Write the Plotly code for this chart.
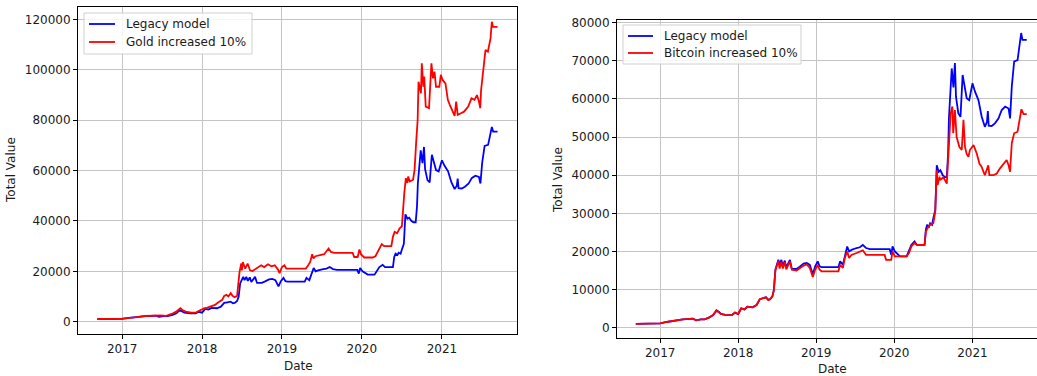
import plotly.graph_objects as go

# ---- portfolio value series -------------------------------------------------
legacy_dates = [
    "2016-09-09", "2017-01-01", "2017-01-31", "2017-03-01", "2017-04-17", "2017-06-03",
    "2017-06-18", "2017-07-10", "2017-07-28", "2017-08-19", "2017-09-06", "2017-09-21",
    "2017-10-02", "2017-10-12", "2017-11-07", "2017-12-03", "2017-12-17", "2018-01-01",
    "2018-01-15", "2018-01-30", "2018-02-13", "2018-03-10", "2018-03-28", "2018-04-12",
    "2018-04-27", "2018-05-11", "2018-05-22", "2018-05-30", "2018-06-10", "2018-06-17",
    "2018-06-24", "2018-07-01", "2018-07-08", "2018-07-14", "2018-07-22", "2018-07-29",
    "2018-08-07", "2018-08-14", "2018-08-31", "2018-09-09", "2018-10-01", "2018-10-16",
    "2018-11-03", "2018-11-18", "2018-12-02", "2018-12-16", "2018-12-27", "2019-01-08",
    "2019-01-17", "2019-01-26", "2019-04-15", "2019-04-23", "2019-05-06", "2019-05-15",
    "2019-05-26", "2019-06-04", "2019-06-15", "2019-07-09", "2019-07-24", "2019-08-07",
    "2019-08-22", "2019-09-09", "2019-12-11", "2019-12-18", "2019-12-24", "2020-01-04",
    "2020-01-15", "2020-01-28", "2020-02-28", "2020-03-10", "2020-03-21", "2020-04-05",
    "2020-04-16", "2020-05-22", "2020-05-28", "2020-06-03", "2020-06-12", "2020-06-17",
    "2020-06-26", "2020-07-02", "2020-07-11", "2020-07-18", "2020-07-27", "2020-08-04",
    "2020-08-15", "2020-08-24", "2020-09-03", "2020-09-09", "2020-09-13", "2020-09-26",
    "2020-10-04", "2020-10-11", "2020-10-16", "2020-10-27", "2020-11-06", "2020-11-16",
    "2020-11-27", "2020-12-05", "2020-12-17", "2021-01-01", "2021-01-13", "2021-01-29",
    "2021-02-13", "2021-02-28", "2021-03-10", "2021-03-14", "2021-03-18", "2021-04-01",
    "2021-04-16", "2021-05-03", "2021-05-18", "2021-06-03", "2021-06-19", "2021-06-26",
    "2021-07-04", "2021-07-15", "2021-07-31", "2021-08-08", "2021-08-17", "2021-08-23",
    "2021-09-12",
]
legacy_values = [
    1000, 1140, 1500, 1840, 2200, 2370,
    1930, 2200, 2200, 2720, 3330, 4600,
    4200, 3600, 3300, 3330, 3950, 3600,
    5100, 4800, 5500, 5350, 5960, 7460,
    7720, 7980, 7300, 7460, 8200, 9900,
    15200, 16500, 17800, 16500, 17800, 16200,
    17600, 15800, 17800, 15400, 15400, 16000,
    16800, 17000, 16500, 14000, 16100, 17400,
    16100, 15900, 15900, 17400, 16500, 18700,
    21300, 20000, 20400, 20900, 21100, 21700,
    20900, 20600, 20600, 19100, 21300, 20000,
    19400, 18700, 18700, 20000, 21700, 22600,
    21700, 21700, 25700, 27000, 26500, 27400,
    27000, 28700, 30900, 42600, 40900, 41300,
    40000, 39500, 39500, 45700, 55000, 68000,
    63000, 69400, 60600, 56200, 55300, 66300,
    62400, 60200, 59700, 64100, 61900, 59700,
    55400, 52700, 54000, 56800, 53000, 52900,
    53600, 54900, 57100, 58000, 57500, 54900,
    63200, 69800, 70200, 73000, 77300, 75500,
    75500,
]

gold_dates = [
    "2016-09-09", "2017-01-01", "2017-03-01", "2017-04-15", "2017-06-28", "2017-07-18",
    "2017-08-15", "2017-09-05", "2017-09-24", "2017-10-03", "2017-10-18", "2017-11-13",
    "2017-12-05", "2017-12-20", "2018-01-10", "2018-01-25", "2018-02-13", "2018-03-01",
    "2018-03-15", "2018-04-03", "2018-04-12", "2018-04-22", "2018-05-01", "2018-05-12",
    "2018-05-20", "2018-05-30", "2018-06-10", "2018-06-16", "2018-06-21", "2018-06-29",
    "2018-07-02", "2018-07-06", "2018-07-17", "2018-07-28", "2018-08-08", "2018-08-19",
    "2018-09-13", "2018-09-28", "2018-10-12", "2018-10-29", "2018-11-14", "2018-11-29",
    "2018-12-14", "2018-12-21", "2019-01-01", "2019-01-12", "2019-01-21", "2019-04-20",
    "2019-05-01", "2019-05-10", "2019-05-19", "2019-05-25", "2019-06-03", "2019-06-21",
    "2019-07-13", "2019-08-02", "2019-08-13", "2019-08-28", "2019-11-20", "2019-11-27",
    "2019-12-13", "2019-12-21", "2019-12-28", "2020-01-12", "2020-02-19", "2020-03-03",
    "2020-03-14", "2020-03-21", "2020-04-01", "2020-04-12", "2020-05-15", "2020-05-22",
    "2020-05-30", "2020-06-10", "2020-06-21", "2020-07-02", "2020-07-06", "2020-07-13",
    "2020-07-20", "2020-07-27", "2020-07-31", "2020-08-07", "2020-08-22", "2020-08-29",
    "2020-09-05", "2020-09-12", "2020-09-16", "2020-09-23", "2020-09-27", "2020-10-01",
    "2020-10-08", "2020-10-12", "2020-10-19", "2020-11-03", "2020-11-14", "2020-11-21",
    "2020-11-28", "2020-12-05", "2020-12-20", "2020-12-27", "2021-01-04", "2021-01-17",
    "2021-01-28", "2021-02-06", "2021-02-17", "2021-02-28", "2021-03-07", "2021-03-14",
    "2021-03-29", "2021-04-12", "2021-05-01", "2021-05-16", "2021-05-30", "2021-06-10",
    "2021-06-19", "2021-06-25", "2021-06-29", "2021-07-06", "2021-07-13", "2021-07-19",
    "2021-07-30", "2021-08-06", "2021-08-11", "2021-08-17", "2021-08-22", "2021-09-12",
]
gold_values = [
    1070, 1200, 1730, 2270, 2530, 2270,
    3070, 4000, 5330, 4670, 4000, 3600,
    3730, 4400, 5330, 5600, 6270, 6670,
    7600, 8670, 10270, 10670, 10000, 11330,
    10270, 9730, 10270, 15330, 19700, 23100,
    20400, 23700, 21100, 23100, 20400, 20100,
    21500, 22400, 21700, 22800, 22000, 22400,
    20700, 19300, 21700, 22400, 21100, 21100,
    22400, 23700, 26800, 25100, 26000, 26400,
    26800, 29100, 27700, 27300, 27300, 25700,
    25700, 28700, 26800, 25500, 25500, 26000,
    27700, 29100, 30800, 30000, 30000, 33700,
    35700, 35100, 37000, 37900, 44500, 51100,
    57000, 55100, 57700, 55700, 56400, 60300,
    70900, 80100, 95300, 92700, 90700, 102600,
    93300, 97300, 85400, 84800, 102600, 96600,
    99300, 93300, 93300, 98000, 96000, 94600,
    88100, 86100, 84100, 81700, 87400, 82100,
    82800, 83400, 85400, 88700, 88100, 90000,
    87400, 84800, 92000, 97300, 103200, 107900,
    107200, 110500, 112500, 119100, 117100, 117100,
]

bitcoin_dates = [
    "2016-09-09", "2017-01-01", "2017-01-31", "2017-03-01", "2017-04-17", "2017-06-03",
    "2017-06-18", "2017-07-10", "2017-07-28", "2017-08-19", "2017-09-06", "2017-09-21",
    "2017-10-02", "2017-10-12", "2017-11-07", "2017-12-03", "2017-12-17", "2018-01-01",
    "2018-01-15", "2018-01-30", "2018-02-13", "2018-03-10", "2018-03-28", "2018-04-12",
    "2018-04-27", "2018-05-11", "2018-05-22", "2018-05-30", "2018-06-10", "2018-06-17",
    "2018-06-24", "2018-07-01", "2018-07-08", "2018-07-14", "2018-07-22", "2018-07-29",
    "2018-08-07", "2018-08-14", "2018-08-31", "2018-09-09", "2018-10-01", "2018-10-16",
    "2018-11-03", "2018-11-18", "2018-12-02", "2018-12-16", "2018-12-27", "2019-01-08",
    "2019-01-17", "2019-01-26", "2019-04-15", "2019-04-23", "2019-05-06", "2019-05-15",
    "2019-05-26", "2019-06-04", "2019-06-15", "2019-07-09", "2019-08-07", "2019-08-22",
    "2019-11-17", "2019-11-24", "2019-12-18", "2019-12-24", "2020-01-04", "2020-02-28",
    "2020-03-10", "2020-03-21", "2020-04-05", "2020-04-16", "2020-05-22", "2020-05-28",
    "2020-06-05", "2020-06-17", "2020-07-02", "2020-07-11", "2020-07-18", "2020-07-22",
    "2020-07-31", "2020-08-03", "2020-08-18", "2020-09-03", "2020-09-10", "2020-09-21",
    "2020-09-29", "2020-10-03", "2020-10-11", "2020-10-19", "2020-11-01", "2020-11-12",
    "2020-11-20", "2020-11-27", "2020-12-05", "2020-12-13", "2020-12-20", "2021-01-06",
    "2021-01-21", "2021-02-03", "2021-02-13", "2021-02-28", "2021-03-16", "2021-03-21",
    "2021-04-09", "2021-04-24", "2021-05-10", "2021-05-26", "2021-06-10", "2021-06-19",
    "2021-06-26", "2021-07-04", "2021-07-15", "2021-07-31", "2021-08-09", "2021-08-18",
    "2021-08-28", "2021-09-12",
]
bitcoin_values = [
    1000, 1140, 1500, 1840, 2200, 2370,
    1930, 2200, 2200, 2700, 3300, 4400,
    4100, 3600, 3300, 3330, 3950, 3600,
    5100, 4800, 5500, 5350, 5960, 7460,
    7720, 7980, 7300, 7460, 8200, 9900,
    15000, 16200, 17500, 15500, 17300, 15500,
    17200, 15300, 17400, 15200, 15000, 15600,
    16300, 16600, 15700, 13300, 15200, 16500,
    15200, 14800, 14800, 16500, 15700, 18300,
    20000, 18300, 19100, 19600, 20300, 19100,
    19100, 17800, 17800, 20000, 18700, 18700,
    19600, 21300, 22200, 21700, 21700, 25200,
    26100, 27000, 27400, 30400, 41300, 37400,
    39600, 38700, 39500, 37800, 44000, 56200,
    58000, 51000, 57100, 50000, 47400, 46600,
    54500, 47400, 45600, 44800, 46600, 47900,
    45700, 43000, 42200, 40000, 42600, 40000,
    40000, 40400, 41800, 43000, 44000, 42600,
    40900, 48400, 51000, 51400, 54500, 57300,
    56000, 56000,
]

year_ticks = ["2017-01-01", "2018-01-01", "2019-01-01", "2020-01-01", "2021-01-01"]
year_labels = ["2017", "2018", "2019", "2020", "2021"]
left_value_ticks = [0, 20000, 40000, 60000, 80000, 100000, 120000]
right_value_ticks = [0, 10000, 20000, 30000, 40000, 50000, 60000, 70000, 80000]

# ---- figure -----------------------------------------------------------------
W, H = 1037, 376
FONT = "DejaVu Sans"
TEXT = "#1a1a1a"
GRID = "#c4c4c4"
BLUE = "#0000ff"
RED = "#ff0000"


def px(x):
    return x / W


def py(y):
    return 1 - y / H


fig = go.Figure()

fig.add_trace(go.Scatter(x=legacy_dates, y=legacy_values, mode="lines", name="Legacy model",
                         line=dict(color=BLUE, width=1.8), xaxis="x", yaxis="y"))
fig.add_trace(go.Scatter(x=gold_dates, y=gold_values, mode="lines", name="Gold increased 10%",
                         line=dict(color=RED, width=1.8), xaxis="x", yaxis="y"))
fig.add_trace(go.Scatter(x=legacy_dates, y=legacy_values, mode="lines", name="Legacy model",
                         line=dict(color=BLUE, width=1.8), xaxis="x2", yaxis="y2"))
fig.add_trace(go.Scatter(x=bitcoin_dates, y=bitcoin_values, mode="lines",
                         name="Bitcoin increased 10%",
                         line=dict(color=RED, width=1.8), xaxis="x2", yaxis="y2"))


def xaxis(domain, rng, anchor, mirror):
    return dict(domain=domain, range=rng, anchor=anchor, type="date",
                tickmode="array", tickvals=year_ticks, ticktext=year_labels,
                showgrid=True, gridcolor=GRID, gridwidth=1.2,
                showline=True, linecolor="#000000", linewidth=1, mirror=mirror,
                ticks="outside", ticklen=4, tickcolor="#000000", automargin=False,
                tickfont=dict(family=FONT, size=12, color=TEXT), zeroline=False)


def yaxis(domain, rng, anchor, vals, mirror):
    return dict(domain=domain, range=rng, anchor=anchor,
                tickmode="array", tickvals=vals, ticktext=[str(v) for v in vals],
                showgrid=True, gridcolor=GRID, gridwidth=1.2,
                showline=True, linecolor="#000000", linewidth=1, mirror=mirror,
                ticks="outside", ticklen=4, tickcolor="#000000", automargin=False,
                tickfont=dict(family=FONT, size=12, color=TEXT), zeroline=False)


# legend boxes: (box left, top, right, bottom, sample x0, x1, text x, row y's, labels)
legend_boxes = [
    (84, 13, 252, 54, 89, 115, 124, (24, 42), ("Legacy model", "Gold increased 10%")),
    (623, 25, 801, 64, 628, 653, 662, (36, 53), ("Legacy model", "Bitcoin increased 10%")),
]

shapes = []
annotations = []
for bx0, by0, bx1, by1, sx0, sx1, tx, rows, labels in legend_boxes:
    shapes.append(dict(type="rect", xref="paper", yref="paper",
                       x0=px(bx0), x1=px(bx1), y0=py(by1), y1=py(by0),
                       fillcolor="rgba(255,255,255,0.85)",
                       line=dict(color="#d0d0d0", width=1), layer="above"))
    for ry, label, colour in zip(rows, labels, (BLUE, RED)):
        shapes.append(dict(type="line", xref="paper", yref="paper",
                           x0=px(sx0), x1=px(sx1), y0=py(ry), y1=py(ry),
                           line=dict(color=colour, width=1.8), layer="above"))
        annotations.append(dict(text=label, x=px(tx), y=py(ry), xref="paper", yref="paper",
                                xanchor="left", yanchor="middle", showarrow=False,
                                font=dict(family=FONT, size=12, color=TEXT)))

axis_titles = [
    ("Date", 298, 366, 0),
    ("Date", 832, 369, 0),
    ("Total Value", 11, 170, -90),
    ("Total Value", 558, 180, -90),
]
for text, x, y, angle in axis_titles:
    annotations.append(dict(text=text, x=px(x), y=py(y), xref="paper", yref="paper",
                            xanchor="center", yanchor="middle", showarrow=False,
                            textangle=angle, font=dict(family=FONT, size=12, color=TEXT)))

fig.update_layout(
    width=W, height=H,
    margin=dict(l=0, r=0, t=0, b=0, pad=0, autoexpand=False),
    paper_bgcolor="white", plot_bgcolor="white",
    showlegend=False,
    xaxis=xaxis([px(78), px(517)], ["2016-06-13", "2021-12-10"], "y", True),
    yaxis=yaxis([py(334), py(7)], [-4880, 124960], "x", left_value_ticks, True),
    xaxis2=xaxis([px(617), 1.0], ["2016-06-13", "2021-10-30"], "y2", True),
    yaxis2=yaxis([py(338), py(19.5)], [-2700, 80840], "x2", right_value_ticks, False),
    shapes=shapes,
    annotations=annotations,
)

fig.write_html("out.html")
